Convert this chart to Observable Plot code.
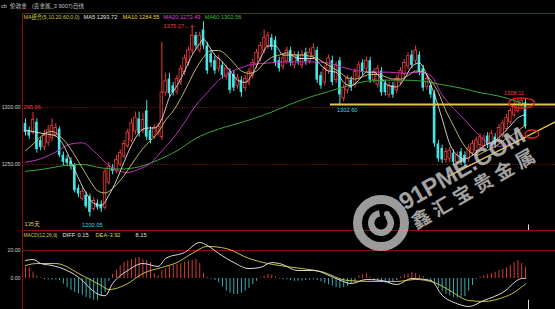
<!DOCTYPE html>
<html>
<head>
<meta charset="utf-8">
<script src="https://cdn.jsdelivr.net/npm/d3@7"></script>
<script src="https://cdn.jsdelivr.net/npm/@observablehq/plot@0.6"></script>
<style>
html,body{margin:0;padding:0;background:#000;}
#wrap{position:relative;width:555px;height:309px;overflow:hidden;background:#000;}
#main{position:absolute;left:0;top:14px;}
#macd{position:absolute;left:0;top:230px;}
#over{position:absolute;left:0;top:0;}
svg{display:block;}
</style>
</head>
<body>
<div id="wrap"><div id="main"></div><div id="macd"></div><svg id="over" width="555" height="309"></svg></div>
<script>
// ---------------- DATA ----------------
const open  = [1286,1280,1278,1287,1271,1265,1269,1273,1276,1281,1258,1255,1253,1249,1229,1220,1223,1222,1211,1216,1215,1212,1234,1247,1244,1250,1257,1266,1271,1279,1290,1280,1297,1280,1274,1278,1274,1313,1325,1319,1314,1322,1331,1339,1350,1363,1350,1368,1354,1347,1341,1334,1337,1327,1331,1329,1319,1324,1317,1322,1328,1337,1343,1350,1354,1361,1359,1341,1336,1341,1350,1337,1346,1337,1348,1341,1345,1350,1328,1322,1332,1341,1324,1341,1308,1315,1324,1320,1327,1339,1334,1341,1324,1320,1332,1321,1311,1319,1315,1322,1329,1336,1346,1341,1346,1334,1318,1319,1312,1268,1264,1254,1255,1260,1252,1261,1258,1255,1260,1262,1267,1266,1275,1268,1274,1271,1276,1281,1287,1293,1297,1301,1304];
const high  = [1290,1283,1295.66,1290,1274,1280,1284,1290,1286,1283,1261,1258,1256,1251,1232,1229,1226,1224,1221,1219,1218,1246,1252,1250,1258,1263,1271,1281,1290,1296,1296,1295,1306,1283,1285,1286,1357,1330,1330,1322,1328,1337,1346,1353,1372,1366,1366,1375.27,1357,1350,1345,1346,1340,1337,1334,1332,1329,1327,1328,1334,1342,1351,1357,1368,1366,1364,1362,1344,1346,1353,1353,1349,1349,1350,1352,1352,1356,1353,1331,1337,1346,1345,1340,1344,1320,1328,1327,1334,1340,1342,1344,1344,1334,1337,1335,1324,1322,1322,1328,1335,1342,1348,1350,1354,1349,1337,1328,1322,1315,1271,1267,1264,1265,1263,1261,1264,1261,1267,1271,1274,1277,1276,1278,1280,1277,1285,1289,1294,1299,1308.11,1307,1307,1307];
const low   = [1275,1272,1276,1260,1262,1262,1266,1270,1274,1256,1249,1248,1245,1225,1221,1218,1211,1204,1209,1210,1208,1210,1232,1241,1242,1248,1255,1264,1269,1276,1274,1277,1271,1268,1272,1275,1271,1310,1309,1310,1311,1319,1328,1336,1347,1351,1348,1351,1329,1335,1329,1331,1325,1324,1312,1314,1316,1309,1314,1319,1325,1334,1340,1347,1351,1350,1336,1331,1333,1338,1336,1334,1337,1334,1337,1338,1342,1321,1316,1319,1329,1319,1321,1302.6,1305,1312,1314,1317,1324,1328,1331,1321,1321,1317,1310,1310,1308,1308,1312,1319,1326,1333,1334,1338,1328,1314,1315,1308,1265,1252,1251,1251,1252,1249,1249,1249,1247,1252,1257,1259,1264,1263,1264,1265,1264,1268,1273,1279,1285,1291,1295,1299,1281];
const close = [1278,1275,1289,1263,1265,1275,1280,1284,1282,1258,1252,1251,1248,1227,1224,1226,1213,1208,1218,1212,1211,1243,1248,1244,1254,1260,1268,1278,1286,1291,1277,1289,1274,1271,1282,1283,1313,1323,1312,1313,1325,1334,1343,1350,1363,1354,1363,1354,1332,1339,1332,1343,1328,1334,1315,1317,1326,1313,1325,1331,1339,1348,1354,1361,1363,1353,1339,1334,1343,1350,1339,1346,1340,1346,1340,1348,1352,1324,1319,1334,1343,1322,1337,1311,1317,1325,1317,1331,1337,1331,1341,1324,1331,1334,1313,1313,1319,1311,1325,1332,1339,1345,1337,1350,1331,1317,1325,1311,1268,1255,1254,1261,1262,1252,1258,1252,1251,1264,1268,1271,1274,1273,1267,1277,1267,1282,1286,1291,1297,1302,1305,1306,1283];

// moving averages: [candle index, price]
const ma5  = [[0,1280],[5,1277],[8,1275],[10,1267],[13,1245],[16,1225],[18,1216],[20,1214],[22,1223],[24,1236],[26,1252],[28,1267],[30,1278],[32,1282],[34,1282],[36,1290],[38,1309],[40,1319],[42,1332],[44,1346],[46,1356],[47,1360],[48,1356],[50,1346],[52,1340],[54,1332],[56,1324],[58,1322],[60,1330],[62,1343],[64,1354],[66,1354],[68,1346],[70,1346],[72,1343],[74,1343],[76,1343],[78,1337],[80,1332],[82,1331],[84,1322],[86,1319],[88,1324],[90,1331],[92,1331],[94,1325],[96,1319],[98,1318],[100,1325],[102,1336],[104,1339],[106,1328],[108,1311],[110,1290],[112,1268],[114,1258],[116,1255],[118,1258],[120,1264],[122,1268],[124,1271],[126,1277],[128,1284],[130,1291],[132,1293.72]];
const ma10 = [[0,1262],[3,1271],[5,1277],[7,1279],[9,1275],[11,1268],[13,1258],[15,1247],[17,1236],[19,1227],[21,1225],[23,1229],[25,1236],[27,1245],[29,1255],[31,1264],[33,1271],[35,1278],[37,1289],[39,1297],[41,1308],[43,1321],[45,1334],[47,1344],[49,1350],[51,1350],[53,1346],[55,1339],[57,1332],[59,1330],[61,1332],[63,1339],[65,1344],[67,1346],[69,1348],[71,1346],[73,1346],[75,1345],[77,1343],[79,1339],[81,1335],[83,1331],[85,1326],[87,1325],[89,1327],[91,1329],[93,1329],[95,1327],[97,1325],[99,1325],[101,1328],[103,1332],[105,1331],[107,1324],[109,1313],[111,1297],[113,1284],[115,1271],[117,1262],[119,1258],[121,1261],[123,1264],[125,1268],[127,1273],[129,1277],[131,1282],[132,1284.55]];
const ma20 = [[0,1252],[4,1255],[8,1261],[12,1268],[15,1269],[18,1262],[21,1252],[24,1245],[27,1243],[30,1246],[33,1251],[36,1262],[39,1273],[42,1287],[45,1302],[48,1313],[51,1324],[54,1331],[57,1335],[60,1338],[64,1339],[68,1340],[72,1340],[76,1340],[80,1339],[84,1335],[88,1332],[92,1331],[96,1331],[100,1330],[104,1331],[107,1328],[110,1311],[113,1299],[116,1289],[119,1278],[122,1269],[125,1266],[128,1268],[132,1273.43]];
const ma60 = [[0,1244],[5,1246],[10,1249],[15,1250],[20,1247],[25,1246],[30,1248],[35,1254],[40,1262],[45,1273],[50,1280],[55,1285],[60,1290],[65,1296],[70,1303],[75,1309],[80,1314],[85,1319],[90,1323],[95,1324],[100,1324],[105,1323],[110,1320],[115,1317],[120,1313],[125,1310],[130,1305],[132,1302.56]];

// MACD panel
const diff = [[0,12.9],[2,13.6],[4,10.7],[7,9.3],[11,5.7],[15,-1.4],[17,-7],[20,-12],[21,-12.3],[23,-3.6],[27,5.7],[31,10.7],[35,8.6],[37,14.3],[42,18.6],[46,25.7],[48,23.6],[51,17.9],[55,11.4],[59,7.1],[62,7.9],[65,11.4],[67,10.7],[72,5.7],[76,5.7],[82,0],[86,-3.6],[90,-0.7],[94,-1.4],[98,-4.3],[102,0],[107,-1.4],[110,-12],[114,-18],[117,-20],[121,-15.7],[126,-10],[131,0],[132,0.15]];
const dea  = [[0,9.3],[3,10.7],[8,10.7],[15,2.1],[20,-5],[22,-7.9],[27,-3.6],[31,3.6],[36,7.9],[40,11.4],[44,17.9],[48,22.9],[53,21.4],[59,14.3],[64,10.7],[67,9.3],[73,7.1],[78,5],[85,-1.4],[91,-2.1],[98,-2.1],[103,-0.7],[108,-2.9],[112,-8.6],[117,-15.7],[121,-16.4],[126,-13.6],[129,-10],[131,-6],[132,-3.92]];
const macdHist = [8,7.5,4.5,1.5,0.5,-0.8,-1,-1.2,-1,-1.5,-4,-6.5,-8.5,-10,-11,-12,-13.5,-14.5,-15.5,-15.7,-13,-10,-2,3,6,9,11.4,12.5,13.6,14.5,15,13.5,12.9,11.4,3.6,2,5.7,7,8.6,9.5,10,10.7,11.5,12.5,13,13.6,10.7,3.6,0.8,-0.5,-1.5,-3,-6,-9,-10.5,-11.4,-11.4,-10.5,-9,-7,-4.5,-2,0.5,1.4,3,2.5,1,-0.5,-0.7,-1,-1.5,-2,-2,-1.8,-1.5,-1.2,-1,-1.5,-2.5,-3.6,-4.5,-5.5,-6.5,-7,-6.5,-5.7,-4,-3,2,2.8,3.6,1,-1.5,-2.5,-3,-3.5,-4,-3,-1.5,1,2.5,3.3,4.3,3.5,2,1.4,-0.5,-2,-4.3,-7,-9.5,-11.4,-12.5,-13.5,-14,-13.5,-13,-9,-5,-0.7,1,2,2.8,3.6,4.5,5.7,6.5,7.5,9.3,11.4,12.9,10.7,8.15];

// ticks and text
const priceTicks = [1300, 1250];
const macdTicks = [20, 0];
const maLegendTitle = "MA组合(5,10,20,60,0,0)";
const maNames = ["MA5", "MA10", "MA20", "MA60"];
const maLast = [1293.72, 1284.55, 1273.43, 1302.56];
const macdTitle = "MACD(12,26,9)";
const macdNames = ["DIFF", "DEA"];
const macdLast = [0.15, -3.92, 8.15];
const headerText = ["cb", "伦敦金", "(贵金属_3 9007)日线"];
const dayCount = "135天";
// annotations
const highLabel = [{i: 47, price: 1375.27, label: "1375.27←—"}];
const recentHigh = [{i: 129, price: 1308.11, label: "1308.11"}];
const supportLow = [{i: 83, price: 1302.6, label: "1302.60"}];
const bottomLow = [{i: 17, price: 1204, label: "1200.05"}];
const edgeLabel = [{price: 1300, label: "295.66"}];
const supportLine = [{from: 80.5, to: 140, price: 1302.6}];
const trendLine = [{i: 111.6, price: 1239.5}, {i: 140, price: 1287.7}];
const circledPoints = [{i: 131.1, price: 1303.5}, {i: 133.8, price: 1276.3}];
const cursorIndex = 132.8;
const watermark = ["91PME.COM", "鑫汇宝贵金属"];

// ---------------- CHART ----------------
const FONT = "'Liberation Sans','Noto Sans CJK SC',sans-serif";
const RED = "#f03c3c", CYAN = "#44e6e6", GOLD = "#e6c64a", GRIDRED = "#8e1414";
const candles = open.map((o, i) => ({i, o, h: high[i], l: low[i], c: close[i]}));
const upC = candles.filter(d => d.c >= d.o), dnC = candles.filter(d => d.c < d.o);
const HW = 0.34;
const xOpt = {domain: [0, open.length - 1], range: [25, 525], axis: null};
const maColors = ["#e4e4e4", "#e0d24a", "#e040e0", "#3fbf3f"];
const maLineColors = ["#e2e2e2", "#d4cc70", "#c232c2", "#38a838"];
const legendDx = [61, 100, 141, 182];
const FS = 5.7, FSAX = 5.2;

const main = Plot.plot({
  width: 555, height: 216, marginLeft: 22, marginRight: 0, marginTop: 0, marginBottom: 0,
  style: {background: "#000", overflow: "visible", fontFamily: FONT},
  x: xOpt,
  y: {domain: [1250, 1300], range: [150, 93], axis: null},
  marks: [
    Plot.ruleY(priceTicks, {stroke: GRIDRED, strokeDasharray: "1,1.5"}),
    Plot.text(priceTicks, {y: d => d, text: d => d.toFixed(2), frameAnchor: "left", textAnchor: "end", dx: -2, fill: "#cfcfcf", fontSize: FSAX}),
    Plot.ruleX(upC, {x: "i", y1: "l", y2: "h", stroke: RED, strokeWidth: 1}),
    Plot.ruleX(dnC, {x: "i", y1: "l", y2: "h", stroke: CYAN, strokeWidth: 1}),
    Plot.rect(dnC, {x1: d => d.i - HW, x2: d => d.i + HW, y1: "o", y2: "c", fill: CYAN}),
    Plot.rect(upC, {x1: d => d.i - HW, x2: d => d.i + HW, y1: "o", y2: "c", fill: "#000", stroke: RED, strokeWidth: 0.8}),
    Plot.line(ma60, {x: d => d[0], y: d => d[1], stroke: maLineColors[3], strokeWidth: 1, curve: "monotone-x"}),
    Plot.line(ma20, {x: d => d[0], y: d => d[1], stroke: maLineColors[2], strokeWidth: 1, curve: "monotone-x"}),
    Plot.line(ma10, {x: d => d[0], y: d => d[1], stroke: maLineColors[1], strokeWidth: 0.9, curve: "monotone-x"}),
    Plot.line(ma5, {x: d => d[0], y: d => d[1], stroke: maLineColors[0], strokeWidth: 0.9, curve: "monotone-x"}),
    Plot.ruleY(supportLine, {y: "price", x1: "from", x2: "to", stroke: GOLD, strokeWidth: 2}),
    Plot.line(trendLine, {x: "i", y: "price", stroke: GOLD, strokeWidth: 1.4}),
    Plot.ruleX([cursorIndex], {x: d => d, y1: 1197, y2: 1190, stroke: "#ddd"}),
    Plot.text(highLabel, {x: "i", y: "price", text: "label", textAnchor: "end", dx: -8, dy: 4.5, fill: RED, fontSize: FS}),
    Plot.text(recentHigh, {x: "i", y: "price", text: "label", dy: -5, fill: RED, fontSize: FS}),
    Plot.text(supportLow, {x: "i", y: "price", text: "label", textAnchor: "start", dx: -3, dy: 5.5, fill: "#6cc6e6", fontSize: FS}),
    Plot.text(bottomLow, {x: "i", y: "price", text: "label", dx: 2.5, dy: 8, fill: "#4cd0e6", fontSize: FS}),
    Plot.text(edgeLabel, {y: "price", text: "label", frameAnchor: "left", textAnchor: "start", dx: 1, fill: RED, fontSize: FS}),
    Plot.text([dayCount], {text: d => d, frameAnchor: "bottom-left", lineAnchor: "middle", dx: 2, dy: -6, fill: "#d8cf5a", fontSize: FS}),
    Plot.text([maLegendTitle], {text: d => d, frameAnchor: "top-left", lineAnchor: "middle", dx: 1, dy: 2.5, fill: "#d0c85a", fontSize: 5.3}),
    ...maNames.map((n, k) => Plot.text([k], {text: d => `${maNames[d]} ${maLast[d].toFixed(2)}`, frameAnchor: "top-left", lineAnchor: "middle", dx: legendDx[k], dy: 2.5, fill: maColors[k], fontSize: FS}))
  ]
});
document.getElementById("main").appendChild(main);

const histData = macdHist.map((v, i) => ({i, v}));
const macd = Plot.plot({
  width: 555, height: 79, marginLeft: 22, marginRight: 0, marginTop: 0, marginBottom: 0,
  style: {background: "#000", overflow: "visible", fontFamily: FONT},
  x: xOpt,
  y: {domain: [0, 20], range: [48, 20], axis: null},
  marks: [
    Plot.ruleY([macdTicks[0]], {y: d => d, stroke: "#7e1010"}),
    Plot.text(macdTicks, {y: d => d, text: d => d.toFixed(2), frameAnchor: "left", textAnchor: "end", dx: -2, fill: "#cfcfcf", fontSize: FSAX}),
    Plot.ruleX(histData.filter(d => d.v >= 0), {x: "i", y1: 0, y2: "v", stroke: "#d63a3a", strokeWidth: 1}),
    Plot.ruleX(histData.filter(d => d.v < 0), {x: "i", y1: 0, y2: "v", stroke: "#34aeb0", strokeWidth: 1}),
    Plot.line(dea, {x: d => d[0], y: d => d[1], stroke: "#c9c03e", strokeWidth: 1, curve: "monotone-x"}),
    Plot.line(diff, {x: d => d[0], y: d => d[1], stroke: "#dcdcdc", strokeWidth: 1, curve: "monotone-x"}),
    Plot.ruleX([cursorIndex], {x: d => d, y1: -15.5, y2: -23, stroke: "#ddd"}),
    Plot.text([macdTitle], {text: d => d, frameAnchor: "top-left", lineAnchor: "middle", dx: 1, dy: 4.5, fill: "#d0c85a", fontSize: 4.9}),
    Plot.text([macdNames[0]], {text: d => d, frameAnchor: "top-left", lineAnchor: "middle", dx: 40, dy: 4.5, fill: "#e0e0e0", fontSize: FS}),
    Plot.text([macdLast[0]], {text: d => d.toFixed(2), frameAnchor: "top-left", lineAnchor: "middle", dx: 55, dy: 4.5, fill: "#e0e0e0", fontSize: FS}),
    Plot.text([macdNames[1]], {text: d => d, frameAnchor: "top-left", lineAnchor: "middle", dx: 73, dy: 4.5, fill: "#d8d060", fontSize: FS}),
    Plot.text([macdLast[1]], {text: d => d.toFixed(2), frameAnchor: "top-left", lineAnchor: "middle", dx: 85, dy: 4.5, fill: "#d8d060", fontSize: FS}),
    Plot.text([macdLast[2]], {text: d => d.toFixed(2), frameAnchor: "top-left", lineAnchor: "middle", dx: 113, dy: 4.5, fill: "#e0e0e0", fontSize: FS})
  ]
});
document.getElementById("macd").appendChild(macd);

// ---------------- OVERLAY: header, frame lines, watermark, circles ----------------
const over = d3.select("#over");
const hx = [1, 10, 32];
headerText.forEach((t, k) => over.append("text").attr("x", hx[k]).attr("y", 7).attr("dominant-baseline", "middle")
  .attr("font-family", FONT).attr("font-size", 5.6).attr("fill", "#c4c4c4").text(t));
over.append("line").attr("x1", 22).attr("x2", 555).attr("y1", 13.5).attr("y2", 13.5).attr("stroke", "#8a1010");
over.append("line").attr("x1", 22.5).attr("x2", 22.5).attr("y1", 13).attr("y2", 309).attr("stroke", "#8a1010");
over.append("line").attr("x1", 22).attr("x2", 555).attr("y1", 230.5).attr("y2", 230.5).attr("stroke", "#8a1010");

const wm = over.append("g").attr("opacity", 0.82);
const logo = wm.append("g").attr("transform", "translate(381,223)");
logo.append("circle").attr("r", 23.5).attr("fill", "none").attr("stroke", "#bdbdbd").attr("stroke-width", 9);
logo.append("path").attr("d", d3.arc()({innerRadius: 6.5, outerRadius: 13, startAngle: 0.7, endAngle: 2 * Math.PI - 0.15})).attr("fill", "#bdbdbd");
logo.append("circle").attr("cx", 6).attr("cy", -9).attr("r", 3).attr("fill", "#bdbdbd");
wm.append("text").attr("transform", "translate(463,170) rotate(-30)").attr("text-anchor", "middle").attr("dominant-baseline", "middle")
  .attr("font-family", "'Liberation Sans',sans-serif").attr("font-weight", "bold").attr("font-size", 24).attr("fill", "#c6c6c6").text(watermark[0]);
wm.append("text").attr("transform", "translate(476,189) rotate(-30)").attr("text-anchor", "middle").attr("dominant-baseline", "middle")
  .attr("font-family", "'Noto Sans CJK SC',sans-serif").attr("font-weight", "bold").attr("font-size", 19).attr("letter-spacing", 5).attr("fill", "#c6c6c6").text(watermark[1]);

const sx = main.scale("x"), sy = main.scale("y");
const fx = v => sx && sx.apply ? sx.apply(v) : 25 + v * 500 / 132;
const fy = v => (sy && sy.apply ? sy.apply(v) : 93 + (1300 - v) * 57 / 50) + 14;
const ellSize = [[13, 5], [7, 4]];
circledPoints.forEach((p, k) => over.append("ellipse").attr("cx", fx(p.i)).attr("cy", fy(p.price))
  .attr("rx", ellSize[k][0]).attr("ry", ellSize[k][1]).attr("fill", "none").attr("stroke", "#e82020").attr("stroke-width", 1.3));
</script>
</body>
</html>
